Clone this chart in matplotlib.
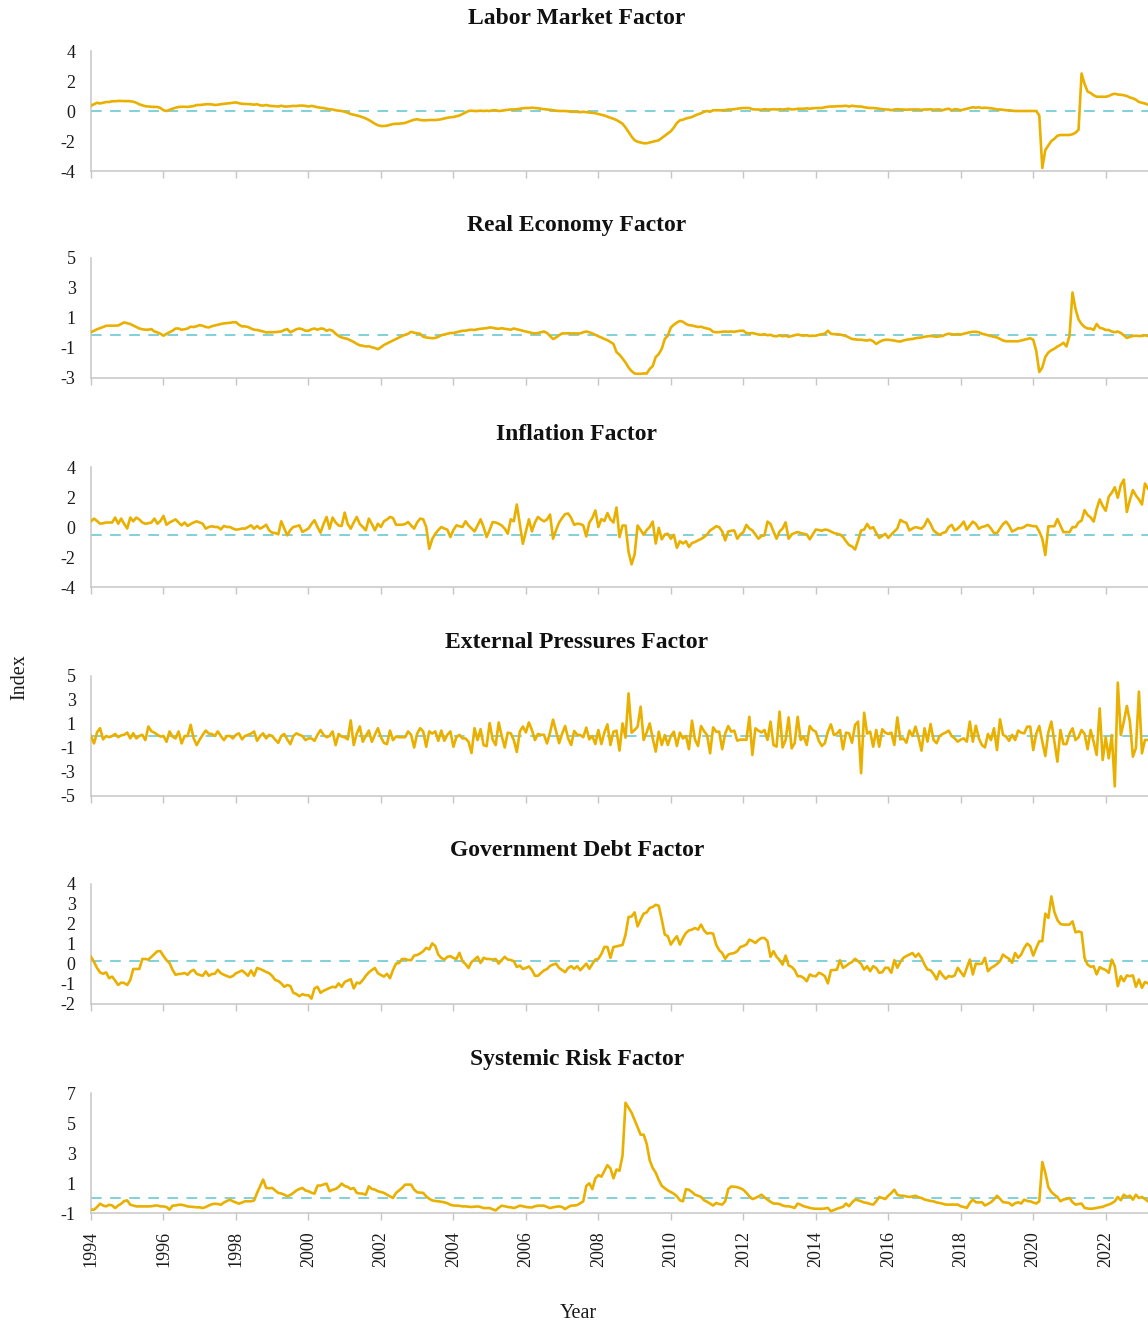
import numpy as np
import matplotlib
matplotlib.use("Agg")
import matplotlib.pyplot as plt

# ---------------- data (monthly, Jan 1994 - Mar 2023) ----------------
start_year = 1994

titles = ["Labor Market Factor", "Real Economy Factor", "Inflation Factor",
          "External Pressures Factor", "Government Debt Factor", "Systemic Risk Factor"]

labor_market = [
    0.35, 0.45, 0.55, 0.5, 0.55, 0.6, 0.6, 0.65, 0.65, 0.67, 0.67, 0.66,
    0.66, 0.65, 0.62, 0.55, 0.45, 0.38, 0.32, 0.3, 0.28, 0.27, 0.27, 0.2,
    0.05, 0.0, 0.08, 0.15, 0.22, 0.27, 0.28, 0.28, 0.27, 0.3, 0.33, 0.4,
    0.4, 0.42, 0.45, 0.45, 0.44, 0.4, 0.42, 0.45, 0.48, 0.5, 0.52, 0.55,
    0.57, 0.52, 0.48, 0.47, 0.46, 0.45, 0.42, 0.45, 0.38, 0.36, 0.4, 0.35,
    0.33, 0.32, 0.3, 0.35, 0.3, 0.3, 0.32, 0.34, 0.33, 0.36, 0.36, 0.34,
    0.3, 0.34, 0.3, 0.25, 0.22, 0.2, 0.15, 0.12, 0.1, 0.05, 0.02, 0.0,
    -0.05, -0.12, -0.2, -0.25, -0.3, -0.35, -0.42, -0.5, -0.6, -0.72, -0.85, -0.95,
    -1.0, -1.0, -0.98, -0.92, -0.87, -0.85, -0.85, -0.82, -0.8, -0.72, -0.65, -0.58,
    -0.55, -0.6, -0.62, -0.62, -0.6, -0.6, -0.6, -0.58, -0.55, -0.5, -0.45, -0.42,
    -0.4, -0.35, -0.3, -0.2, -0.1, 0.0, 0.02, 0.0, 0.0, 0.02, 0.0, 0.02,
    0.0, 0.05, 0.05, 0.0, 0.02, 0.05, 0.08, 0.1, 0.1, 0.12, 0.15, 0.18,
    0.2, 0.2, 0.22, 0.2, 0.18, 0.15, 0.12, 0.1, 0.08, 0.05, 0.02, 0.0,
    0.0, 0.0, -0.02, -0.05, -0.05, -0.05, -0.08, -0.05, -0.08, -0.1, -0.12, -0.15,
    -0.2, -0.25, -0.3, -0.38, -0.45, -0.52, -0.6, -0.72, -0.85, -1.1, -1.4, -1.7,
    -1.95, -2.05, -2.1, -2.15, -2.15, -2.1, -2.05, -2.0, -1.95, -1.8, -1.65, -1.5,
    -1.35, -1.1, -0.8, -0.62, -0.58, -0.5, -0.45, -0.4, -0.3, -0.22, -0.15, -0.05,
    0.0, -0.05, 0.05, 0.05, 0.05, 0.05, 0.06, 0.1, 0.1, 0.12, 0.15, 0.18,
    0.2, 0.2, 0.2, 0.12, 0.1, 0.1, 0.08, 0.12, 0.1, 0.1, 0.12, 0.1,
    0.12, 0.1, 0.12, 0.15, 0.1, 0.12, 0.15, 0.15, 0.15, 0.18, 0.15, 0.18,
    0.2, 0.2, 0.2, 0.25, 0.28, 0.3, 0.3, 0.32, 0.32, 0.33, 0.35, 0.3,
    0.35, 0.32, 0.3, 0.3, 0.25, 0.22, 0.2, 0.2, 0.18, 0.15, 0.12, 0.1,
    0.1, 0.05, 0.1, 0.12, 0.1, 0.1, 0.08, 0.1, 0.1, 0.1, 0.1, 0.08,
    0.1, 0.1, 0.12, 0.08, 0.1, 0.1, 0.05, 0.12, 0.15, 0.05, 0.12, 0.1,
    0.05, 0.1, 0.15, 0.2, 0.25, 0.22, 0.25, 0.2, 0.22, 0.2, 0.18, 0.15,
    0.1, 0.1, 0.08, 0.05, 0.05, 0.02, 0.0, 0.0, 0.0, 0.0, 0.0, 0.0,
    0.0, 0.0, -0.3, -3.8, -2.6, -2.3, -2.0, -1.85, -1.65, -1.6, -1.6, -1.6,
    -1.6, -1.55, -1.45, -1.25, 2.5, 1.8, 1.3, 1.2, 1.05, 0.95, 0.95, 0.95,
    0.95, 1.0, 1.1, 1.15, 1.1, 1.08, 1.05, 1.0, 0.9, 0.85, 0.75, 0.6,
    0.55, 0.5, 0.42,
]

real_economy = [
    0.05, 0.15, 0.25, 0.32, 0.4, 0.48, 0.49, 0.49, 0.49, 0.5, 0.6, 0.71,
    0.65, 0.6, 0.5, 0.4, 0.3, 0.25, 0.22, 0.22, 0.26, 0.1, 0.04, -0.05,
    -0.18, -0.05, 0.05, 0.15, 0.3, 0.3, 0.22, 0.25, 0.3, 0.42, 0.4, 0.45,
    0.53, 0.48, 0.4, 0.37, 0.45, 0.5, 0.55, 0.6, 0.64, 0.66, 0.68, 0.71,
    0.72, 0.55, 0.44, 0.44, 0.4, 0.3, 0.22, 0.2, 0.15, 0.1, 0.04, 0.05,
    0.05, 0.06, 0.08, 0.1, 0.2, 0.26, 0.04, 0.15, 0.25, 0.3, 0.25, 0.15,
    0.15, 0.25, 0.3, 0.22, 0.3, 0.28, 0.15, 0.22, 0.15, -0.05, -0.2, -0.3,
    -0.35, -0.4, -0.5, -0.6, -0.72, -0.82, -0.85, -0.9, -0.88, -0.95, -1.0, -1.08,
    -0.95, -0.8, -0.7, -0.6, -0.5, -0.4, -0.3, -0.2, -0.12, -0.05, 0.08, 0.02,
    -0.02, -0.05, -0.25, -0.3, -0.32, -0.35, -0.33, -0.25, -0.15, -0.1, -0.05, 0.0,
    0.0, 0.05, 0.1, 0.15, 0.15, 0.2, 0.22, 0.2, 0.25, 0.28, 0.3, 0.32,
    0.37, 0.35, 0.3, 0.28, 0.32, 0.28, 0.25, 0.22, 0.3, 0.25, 0.2, 0.15,
    0.1, 0.05, 0.0, -0.03, 0.0, 0.05, 0.1, 0.0, -0.2, -0.4, -0.3, -0.15,
    -0.03, -0.03, -0.02, -0.03, -0.03, -0.03, -0.03, 0.05, 0.1, 0.05, -0.03, -0.12,
    -0.22, -0.3, -0.4, -0.48, -0.6, -0.73, -1.27, -1.45, -1.7, -1.97, -2.3, -2.54,
    -2.7, -2.72, -2.72, -2.7, -2.7, -2.4, -2.2, -1.6, -1.4, -1.05, -0.4, -0.18,
    0.37, 0.55, 0.7, 0.8, 0.75, 0.6, 0.52, 0.5, 0.45, 0.4, 0.42, 0.35,
    0.3, 0.25, 0.08, 0.05, 0.06, 0.08, 0.1, 0.08, 0.1, 0.08, 0.12, 0.15,
    0.15, 0.0, -0.03, 0.0, -0.05, -0.1, -0.12, -0.08, -0.15, -0.12, -0.2, -0.22,
    -0.15, -0.22, -0.18, -0.25, -0.2, -0.15, -0.1, -0.15, -0.18, -0.15, -0.2, -0.18,
    -0.18, -0.12, -0.08, -0.05, 0.15, -0.05, -0.08, -0.08, -0.1, -0.15, -0.2, -0.3,
    -0.4, -0.42, -0.45, -0.45, -0.48, -0.5, -0.45, -0.55, -0.73, -0.6, -0.5, -0.45,
    -0.45, -0.48, -0.5, -0.55, -0.57, -0.5, -0.45, -0.42, -0.4, -0.35, -0.32, -0.3,
    -0.25, -0.22, -0.2, -0.22, -0.25, -0.22, -0.2, -0.1, -0.05, -0.08, -0.1, -0.08,
    -0.1, -0.05, 0.0, 0.05, 0.08, 0.08, 0.05, -0.05, -0.1, -0.15, -0.2, -0.25,
    -0.3, -0.4, -0.5, -0.55, -0.55, -0.55, -0.55, -0.55, -0.5, -0.45, -0.4, -0.35,
    -0.45, -1.2, -2.6, -2.3, -1.6, -1.3, -1.15, -1.05, -0.9, -0.8, -0.65, -0.9,
    -0.2, 2.7, 1.6, 0.9, 0.6, 0.4, 0.3, 0.3, 0.2, 0.6, 0.35, 0.3,
    0.2, 0.2, 0.1, 0.05, 0.1, 0.0, -0.15, -0.33, -0.25, -0.2, -0.18, -0.2,
    -0.2, -0.15, -0.2,
]

inflation = [
    0.38, 0.56, 0.4, 0.22, 0.25, 0.3, 0.3, 0.3, 0.63, 0.22, 0.56, 0.2,
    -0.1, 0.63, 0.38, 0.63, 0.5, 0.3, 0.22, 0.25, 0.3, 0.56, 0.22, 0.4,
    0.74, 0.15, 0.3, 0.4, 0.51, 0.3, 0.11, 0.3, 0.07, 0.2, 0.3, 0.38,
    0.3, 0.22, -0.11, 0.0, 0.05, 0.0, 0.0, -0.16, 0.07, 0.0, 0.0, -0.1,
    -0.18, -0.15, -0.1, -0.11, 0.0, 0.11, -0.11, 0.07, -0.11, 0.0, 0.15, -0.22,
    -0.38, -0.4, -0.49, 0.38, -0.1, -0.56, -0.2, 0.0, 0.05, 0.11, -0.33, -0.22,
    -0.1, 0.2, 0.45, 0.0, -0.38, 0.2, 0.67, -0.11, 0.63, 0.3, 0.1, 0.07,
    0.96, 0.2, -0.11, 0.3, 0.67, 0.2, 0.0, -0.22, 0.56, 0.2, -0.22, 0.22,
    0.0, 0.38, 0.5, 0.67, 0.6, 0.15, 0.15, 0.15, 0.2, 0.33, 0.1, -0.11,
    0.3, 0.56, 0.51, 0.0, -1.45, -0.8, -0.45, -0.2, 0.0, -0.1, -0.18, -0.67,
    -0.2, 0.11, 0.05, 0.0, 0.38, 0.1, -0.1, -0.29, 0.1, 0.51, 0.0, -0.67,
    -0.2, 0.33, 0.3, 0.22, 0.1, -0.11, -0.45, 0.51, 0.38, 1.5, 0.2, -1.12,
    -0.3, 0.51, -0.29, 0.3, 0.67, 0.5, 0.38, 0.5, 0.83, -0.78, -0.2, 0.3,
    0.6, 0.86, 0.9, 0.6, 0.15, 0.22, 0.2, 0.1, -0.63, 0.29, 0.6, 1.1,
    0.0, 0.53, 0.4, 0.93, 0.5, 0.3, 1.3, -0.67, 0.1, 0.1, -1.66, -2.49,
    -1.83, 0.1, -0.2, -0.52, -0.2, 0.0, 0.36, -1.1, -0.06, -0.82, -0.5, -0.45,
    -0.78, -0.52, -1.39, -0.95, -1.1, -0.95, -1.33, -1.07, -1.0, -0.89, -0.8, -0.67,
    -0.5, -0.23, -0.1, 0.05, -0.01, -0.3, -0.89, -0.3, -0.25, -0.23, -0.78, -0.5,
    -0.34, 0.14, -0.1, -0.23, -0.5, -0.78, -0.6, -0.56, 0.36, 0.2, -0.3, -0.78,
    -0.3, -0.1, 0.31, -0.78, -0.5, -0.4, -0.34, -0.4, -0.45, -0.5, -0.82, -0.5,
    -0.17, -0.2, -0.25, -0.17, -0.2, -0.3, -0.4, -0.45, -0.5, -0.65, -0.95, -1.2,
    -1.3, -1.5, -0.9, -0.23, -0.17, 0.2, -0.1, -0.01, -0.4, -0.73, -0.6, -0.45,
    -0.73, -0.5, -0.3, -0.1, 0.47, 0.35, 0.27, -0.23, -0.1, -0.01, -0.05, -0.12,
    0.1, 0.53, 0.2, -0.23, -0.4, -0.52, -0.4, -0.34, 0.0, 0.14, -0.23, -0.1,
    0.1, 0.36, -0.17, 0.1, 0.36, 0.2, -0.12, 0.0, 0.05, 0.14, -0.1, -0.4,
    -0.4, -0.1, 0.2, 0.36, 0.1, -0.3, -0.2, -0.08, -0.08, 0.0, 0.14, 0.1,
    0.05, 0.05, -0.3, -0.78, -1.87, 0.05, 0.05, 0.05, 0.53, 0.1, -0.34, -0.34,
    -0.34, -0.01, -0.01, 0.31, 0.42, 1.12, 0.8, 0.64, 0.36, 1.2, 1.84, 1.4,
    1.08, 2.02, 2.28, 2.65, 1.95, 2.8, 3.16, 1.0, 1.8, 2.46, 2.1, 1.84,
    1.5, 2.9, 2.55,
]

external_pressures = [
    0.0, -0.62, 0.3, 0.65, -0.28, 0.0, -0.1, 0.0, 0.17, -0.1, 0.05, 0.1,
    0.28, -0.2, 0.23, -0.2, 0.0, 0.1, -0.34, 0.79, 0.4, 0.28, 0.1, -0.05,
    0.0, -0.48, 0.38, -0.05, -0.2, 0.38, -0.62, 0.0, 0.0, 0.93, -0.2, -0.76,
    -0.3, 0.1, 0.45, 0.2, 0.17, 0.0, 0.38, 0.0, -0.34, 0.0, 0.0, -0.2,
    0.1, 0.22, -0.28, 0.0, 0.1, 0.2, 0.38, -0.4, 0.0, 0.22, -0.2, 0.1,
    0.0, -0.3, -0.57, 0.0, 0.17, -0.3, -0.68, 0.0, 0.22, 0.1, 0.0, -0.34,
    -0.2, -0.2, -0.4, 0.1, 0.5, 0.1, -0.1, 0.0, 0.38, -0.76, 0.17, -0.05,
    -0.1, -0.28, 1.3, -0.76, 0.2, 0.79, -0.48, 0.0, 0.45, -0.48, 0.1, 0.65,
    -0.1, -0.57, -0.68, 0.45, -0.34, -0.05, -0.1, -0.1, -0.1, 0.38, 0.1, -0.96,
    0.2, 0.65, 0.38, -0.9, 0.38, 0.2, 0.38, -0.4, 0.45, -0.4, 0.1, 0.38,
    -0.9, -0.1, 0.1, -0.2, -0.2, -0.48, -1.42, 0.65, -0.34, 0.57, -0.76, -0.85,
    1.08, -0.3, -0.76, 1.13, 0.0, -0.96, 0.28, 0.22, -0.34, -1.33, 0.38, 0.79,
    0.3, 1.13, 0.5, -0.34, 0.17, 0.1, 0.1, -0.62, 0.3, 1.36, 0.4, -0.6,
    0.2, 0.83, -0.2, -0.75, 0.42, 0.1, 0.08, -0.1, 0.7, -0.28, 0.0, -0.67,
    0.5, -0.67, 0.3, 0.97, -0.75, 0.36, 0.45, -1.22, 1.05, -0.14, 3.55, 0.28,
    0.5, 0.78, 2.44, -0.33, 0.3, 1.05, -0.2, -1.3, 0.36, -0.75, 0.08, -0.75,
    0.0, 0.36, -0.83, 0.28, -0.2, 0.0, -1.1, 1.28, -0.3, -0.83, 0.83, 0.4,
    0.08, -1.44, 0.72, 0.36, 0.36, -1.1, 0.2, 0.83, 0.36, 0.45, -0.39, -0.3,
    -0.3, -0.33, 1.6, -1.58, 0.64, 0.45, 0.3, 0.5, -0.33, 1.2, -0.75, -0.89,
    2.03, -0.95, -0.33, 1.55, -1.03, -0.6, 1.6, -0.33, -0.05, -0.75, 0.83, 0.5,
    0.36, -0.4, -0.83, -0.6, 0.36, 0.97, 0.08, 0.2, 0.5, -1.1, 0.28, 0.22,
    -0.56, 0.92, 1.2, -3.1, 1.94, 0.2, 0.36, -0.89, 0.5, -0.89, 0.56, 0.28,
    0.17, 0.28, -0.75, 1.55, -0.28, -0.2, -0.56, 0.45, 0.0, 0.78, -0.1, -1.22,
    0.64, -0.47, 1.0, -0.33, -0.6, 0.0, 0.17, 0.28, 0.45, 0.0, -0.2, -0.47,
    -0.3, -0.2, -0.47, 1.2, -0.47, 0.86, -0.2, -0.75, -0.95, 0.17, -0.34, 0.64,
    -1.17, 1.39, 0.1, -0.05, -0.4, 0.1, -0.34, 0.45, 0.28, 0.22, 0.78, 0.78,
    -1.17, 0.2, 0.83, -0.47, -1.67, 0.3, 1.2, -0.5, -2.14, 0.5, -0.67, -0.67,
    0.2, 0.64, -0.34, -0.1, 0.5, 0.17, -1.1, 0.5, -0.47, -1.58, 2.3, -2.0,
    -0.1, -1.86, 0.08, -4.2, 4.45, 0.08, 1.2, 2.5, 1.2, -1.72, -1.0, 3.7,
    -1.44, -0.33, -0.33,
]

government_debt = [
    0.36, 0.1, -0.2, -0.42, -0.49, -0.42, -0.71, -0.63, -0.83, -1.05, -0.93, -0.95,
    -1.05, -0.8, -0.25, -0.25, -0.25, 0.25, 0.25, 0.22, 0.36, 0.5, 0.64, 0.64,
    0.4, 0.19, 0.05, -0.29, -0.54, -0.5, -0.49, -0.45, -0.54, -0.37, -0.29, -0.49,
    -0.55, -0.59, -0.37, -0.59, -0.5, -0.49, -0.29, -0.46, -0.54, -0.6, -0.66, -0.6,
    -0.46, -0.4, -0.32, -0.45, -0.59, -0.32, -0.59, -0.2, -0.25, -0.32, -0.4, -0.46,
    -0.6, -0.8, -0.85, -0.97, -1.14, -1.05, -1.1, -1.44, -1.5, -1.61, -1.51, -1.56,
    -1.56, -1.73, -1.22, -1.14, -1.44, -1.34, -1.27, -1.2, -1.14, -1.17, -0.97, -1.14,
    -0.9, -0.83, -0.76, -1.22, -0.93, -0.97, -0.8, -0.59, -0.42, -0.3, -0.2, -0.46,
    -0.55, -0.63, -0.49, -0.71, -0.3, 0.02, 0.05, 0.25, 0.25, 0.2, 0.19, 0.42,
    0.45, 0.53, 0.64, 0.81, 0.73, 1.03, 0.9, 0.47, 0.3, 0.22, 0.36, 0.39,
    0.3, 0.25, 0.56, 0.14, 0.0, -0.2, 0.1, 0.22, 0.36, 0.05, 0.31, 0.25,
    0.25, 0.22, 0.25, 0.02, 0.2, 0.36, 0.22, 0.2, 0.14, -0.15, -0.08, -0.25,
    -0.2, -0.12, -0.3, -0.59, -0.59, -0.45, -0.32, -0.25, -0.1, -0.03, 0.02, -0.2,
    -0.3, -0.41, -0.2, -0.11, -0.24, -0.11, -0.31, -0.15, 0.02, -0.24, 0.0, 0.22,
    0.26, 0.5, 0.85, 0.85, 0.31, 0.85, 0.88, 0.92, 0.95, 1.47, 2.35, 2.38,
    2.58, 1.88, 2.22, 2.52, 2.58, 2.8, 2.85, 2.96, 2.91, 2.22, 1.47, 1.39,
    0.97, 1.2, 1.39, 0.97, 1.3, 1.55, 1.68, 1.72, 1.8, 1.72, 1.97, 1.68,
    1.52, 1.55, 1.52, 0.97, 0.69, 0.55, 0.26, 0.47, 0.52, 0.55, 0.64, 0.85,
    0.9, 0.97, 1.22, 1.15, 1.05, 1.2, 1.3, 1.3, 1.14, 0.36, 0.64, 0.36,
    0.2, -0.03, 0.42, -0.08, -0.14, -0.3, -0.61, -0.61, -0.7, -0.86, -0.52, -0.6,
    -0.61, -0.44, -0.5, -0.61, -0.97, -0.31, -0.3, -0.28, 0.19, -0.19, -0.1, 0.02,
    0.1, 0.26, 0.14, 0.0, -0.28, -0.11, -0.36, -0.11, -0.2, -0.44, -0.41, -0.19,
    -0.19, -0.44, 0.19, -0.19, 0.1, 0.31, 0.4, 0.47, 0.55, 0.36, 0.52, 0.3,
    -0.03, -0.28, -0.31, -0.5, -0.77, -0.36, -0.57, -0.74, -0.6, -0.64, -0.57, -0.19,
    -0.4, -0.61, -0.2, 0.22, -0.52, 0.02, 0.0, 0.02, 0.31, -0.36, -0.2, -0.11,
    0.0, 0.14, 0.47, 0.35, 0.26, 0.06, 0.55, 0.31, 0.47, 0.8, 1.02, 0.89,
    0.42, 0.8, 1.14, 1.14, 2.52, 2.3, 3.38, 2.6, 2.2, 2.0, 1.97, 1.97,
    1.97, 2.13, 1.58, 1.63, 1.58, 0.3, -0.03, -0.14, -0.11, -0.52, -0.16, -0.24,
    -0.3, -0.44, 0.22, -0.11, -1.11, -0.61, -0.86, -0.57, -0.61, -0.57, -1.14, -0.77,
    -1.19, -0.9, -0.97,
]

systemic_risk = [
    -0.78, -0.78, -0.6, -0.38, -0.5, -0.56, -0.45, -0.5, -0.67, -0.5, -0.38, -0.2,
    -0.16, -0.45, -0.5, -0.56, -0.56, -0.56, -0.56, -0.56, -0.55, -0.51, -0.5, -0.56,
    -0.56, -0.6, -0.78, -0.51, -0.5, -0.45, -0.45, -0.5, -0.56, -0.58, -0.6, -0.62,
    -0.62, -0.67, -0.6, -0.5, -0.42, -0.38, -0.4, -0.45, -0.3, -0.2, -0.11, -0.22,
    -0.3, -0.38, -0.3, -0.22, -0.22, -0.22, -0.16, 0.34, 0.78, 1.23, 0.67, 0.65,
    0.67, 0.5, 0.34, 0.3, 0.22, 0.11, 0.2, 0.34, 0.5, 0.6, 0.67, 0.5,
    0.45, 0.35, 0.29, 0.83, 0.83, 0.9, 0.96, 0.45, 0.55, 0.6, 0.74, 0.96,
    0.8, 0.74, 0.6, 0.67, 0.34, 0.3, 0.29, 0.22, 0.78, 0.6, 0.56, 0.45,
    0.4, 0.34, 0.22, 0.11, 0.0, 0.34, 0.5, 0.67, 0.89, 0.89, 0.89, 0.56,
    0.38, 0.36, 0.34, 0.11, -0.05, -0.16, -0.2, -0.22, -0.25, -0.29, -0.35, -0.45,
    -0.5, -0.51, -0.52, -0.56, -0.56, -0.58, -0.6, -0.58, -0.56, -0.6, -0.67, -0.67,
    -0.67, -0.75, -0.83, -0.65, -0.51, -0.55, -0.6, -0.62, -0.67, -0.6, -0.51, -0.55,
    -0.6, -0.62, -0.63, -0.55, -0.51, -0.51, -0.51, -0.6, -0.67, -0.62, -0.58, -0.56,
    -0.6, -0.74, -0.6, -0.51, -0.5, -0.47, -0.35, -0.22, 0.81, 0.98, 0.59, 1.31,
    1.53, 1.42, 1.8, 2.19, 1.97, 1.31, 1.9, 1.82, 2.84, 6.35, 6.02, 5.69,
    5.2, 4.7, 4.22, 4.22, 3.61, 2.52, 2.0, 1.68, 1.2, 0.81, 0.65, 0.5,
    0.4, 0.28, 0.11, -0.15, -0.22, 0.59, 0.55, 0.4, 0.22, 0.15, 0.07, -0.15,
    -0.25, -0.37, -0.5, -0.33, -0.4, -0.44, -0.22, 0.59, 0.77, 0.75, 0.72, 0.65,
    0.55, 0.35, 0.11, -0.07, 0.0, 0.1, 0.22, 0.05, -0.11, -0.25, -0.37, -0.37,
    -0.4, -0.5, -0.55, -0.55, -0.6, -0.66, -0.37, -0.45, -0.55, -0.6, -0.66, -0.7,
    -0.72, -0.72, -0.72, -0.7, -0.66, -0.88, -0.8, -0.72, -0.65, -0.59, -0.37, -0.55,
    -0.3, -0.11, -0.15, -0.22, -0.3, -0.33, -0.4, -0.44, -0.22, 0.07, 0.0, -0.07,
    0.15, 0.33, 0.55, 0.22, 0.15, 0.15, 0.1, 0.07, 0.1, 0.15, 0.05, 0.0,
    -0.1, -0.15, -0.2, -0.22, -0.3, -0.33, -0.38, -0.44, -0.44, -0.44, -0.44, -0.44,
    -0.55, -0.6, -0.66, -0.33, -0.11, -0.28, -0.3, -0.28, -0.5, -0.4, -0.28, -0.1,
    0.15, -0.05, -0.28, -0.3, -0.33, -0.5, -0.35, -0.28, -0.37, -0.11, -0.2, -0.22,
    -0.3, -0.37, -0.22, 2.4, 1.68, 0.72, 0.4, 0.22, 0.07, -0.22, -0.1, -0.07,
    0.0, -0.28, -0.44, -0.4, -0.37, -0.66, -0.7, -0.72, -0.7, -0.66, -0.62, -0.59,
    -0.5, -0.44, -0.35, -0.22, 0.07, -0.15, 0.22, 0.07, 0.15, -0.11, 0.22, 0.0,
    0.07, -0.07, -0.22,
]

# dashed reference level of each panel
mean_levels = [0.0, -0.15, -0.55, 0.0, 0.15, 0.0]
y_limits = [(-4, 4), (-3, 5), (-4, 4), (-5, 5), (-2, 4), (-1, 7)]
y_ticks = [[-4, -2, 0, 2, 4], [-3, -1, 1, 3, 5], [-4, -2, 0, 2, 4],
           [-5, -3, -1, 1, 3, 5], [-2, -1, 0, 1, 2, 3, 4], [-1, 1, 3, 5, 7]]
x_ticks = list(range(1994, 2023, 2))

series = [labor_market, real_economy, inflation, external_pressures,
          government_debt, systemic_risk]

# ---------------- style ----------------
plt.rcParams['font.family'] = ['Liberation Serif', 'DejaVu Serif']
plt.rcParams['axes.unicode_minus'] = False

LINE_COLOR = '#E9B000'
MEAN_COLOR = '#5EC5CE'
SPINE_COLOR = '#C6C6C6'

W, H = 1148, 1328
fig = plt.figure(figsize=(W / 100, H / 100), dpi=100)

left_px = 91
axes_h = 120
tops_px = [51, 258, 467, 676, 884, 1093]

for i, (s, title) in enumerate(zip(series, titles)):
    top = tops_px[i]
    ax = fig.add_axes([left_px / W, 1 - (top + axes_h) / H, (W - left_px) / W, axes_h / H])
    x = start_year + np.arange(len(s)) / 12.0
    ax.plot(x, s, color=LINE_COLOR, lw=1.9, solid_joinstyle='round', zorder=3)
    ax.axhline(mean_levels[i], color=MEAN_COLOR, lw=1.1, dashes=(7, 5.5), zorder=2)
    ax.set_xlim(start_year, start_year + (len(s) - 1) / 12.0)
    ax.set_ylim(*y_limits[i])
    ax.set_yticks(y_ticks[i])
    ax.set_yticklabels([str(v) for v in y_ticks[i]])
    ax.set_xticks(x_ticks)
    if i == len(series) - 1:
        ax.set_xticklabels([str(v) for v in x_ticks], rotation=90)
    else:
        ax.set_xticklabels([])
    for side in ['top', 'right']:
        ax.spines[side].set_visible(False)
    for side in ['left', 'bottom']:
        ax.spines[side].set_color(SPINE_COLOR)
        ax.spines[side].set_linewidth(1.1)
    ax.tick_params(axis='y', length=0, pad=11, labelsize=13, labelcolor='#1a1a1a')
    ax.tick_params(axis='x', length=5, width=1.0, color=SPINE_COLOR, pad=8,
                   labelsize=13, labelcolor='#1a1a1a')
    ax.text((577 - left_px) / (W - left_px), 1 + 33 / axes_h, title,
            transform=ax.transAxes, ha='center', va='center',
            fontsize=17, fontweight='bold', color='#111111')

fig.text(20 / W, 1 - 677 / H, 'Index', rotation=90, ha='center', va='center',
         fontsize=14.5, color='#1a1a1a')
fig.text(578 / W, 1 - 1313 / H, 'Year', ha='center', va='center',
         fontsize=14.5, color='#1a1a1a')

fig.savefig('out.png', dpi=100)
